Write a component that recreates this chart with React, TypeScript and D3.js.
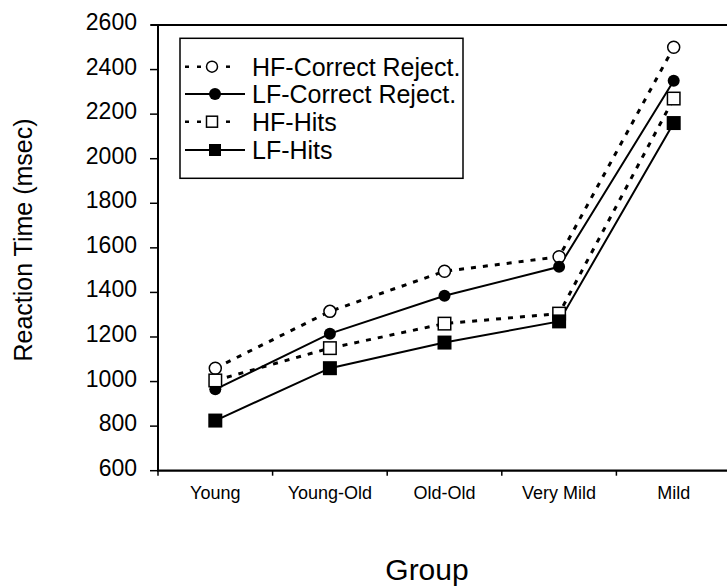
import React from "react";
import * as d3 from "d3";

const categories = ["Young", "Young-Old", "Old-Old", "Very Mild", "Mild"];
const hfCorrectReject = [1060, 1315, 1495, 1560, 2500];
const lfCorrectReject = [965, 1215, 1385, 1515, 2350];
const hfHits = [1005, 1150, 1260, 1305, 2270];
const lfHits = [825, 1060, 1175, 1270, 2160];
const yTicks = [600, 800, 1000, 1200, 1400, 1600, 1800, 2000, 2200, 2400, 2600];
const seriesNames = ["HF-Correct Reject.", "LF-Correct Reject.", "HF-Hits", "LF-Hits"];

type Series = { name: string; values: number[]; dashed: boolean; shape: "circle" | "square"; filled: boolean };

const series: Series[] = [
  { name: seriesNames[0], values: hfCorrectReject, dashed: true, shape: "circle", filled: false },
  { name: seriesNames[1], values: lfCorrectReject, dashed: false, shape: "circle", filled: true },
  { name: seriesNames[2], values: hfHits, dashed: true, shape: "square", filled: false },
  { name: seriesNames[3], values: lfHits, dashed: false, shape: "square", filled: true },
];

const W = 727;
const H = 588;
const FONT = "'Liberation Sans', Arial, Helvetica, sans-serif";

function Marker({ s, cx, cy, legend }: { s: Series; cx: number; cy: number; legend?: boolean }) {
  if (s.shape === "circle") {
    const r = s.filled ? 6 : legend ? 5.5 : 6;
    return (
      <circle cx={cx} cy={cy} r={r} fill={s.filled ? "#000" : "#fff"} stroke="#000" strokeWidth={s.filled ? 0 : 1.5} />
    );
  }
  const side = s.filled ? (legend ? 12 : 14) : legend ? 11 : 12.5;
  return (
    <rect
      x={cx - side / 2}
      y={cy - side / 2}
      width={side}
      height={side}
      fill={s.filled ? "#000" : "#fff"}
      stroke="#000"
      strokeWidth={s.filled ? 0 : 1.5}
    />
  );
}

export default function App() {
  const x = d3.scaleBand<string>().domain(categories).range([158, 158 + 5 * 114.6]).paddingInner(0).paddingOuter(0);
  const y = d3.scaleLinear().domain([600, 2600]).range([470.7, 25]);
  const cx = (c: string) => (x(c) as number) + x.bandwidth() / 2;

  const line = (vals: number[]) =>
    d3
      .line<number>()
      .x((_, i) => cx(categories[i]))
      .y((v) => y(v))(vals) as string;

  const axisY = y(600);
  const tickXs = categories.map((c) => x(c) as number);

  const legendRows = [66.7, 94, 121.7, 150];

  return (
    <svg width={W} height={H} style={{ position: "absolute", left: 0, top: 0, background: "#fff" }} fontFamily={FONT}>
      <rect x={0} y={0} width={W} height={H} fill="#fff" />
      {/* top frame line */}
      <line x1={151} x2={W} y1={y(2600)} y2={y(2600)} stroke="#000" strokeWidth={2} />
      {/* y axis */}
      <line x1={158} x2={158} y1={y(2600)} y2={axisY} stroke="#000" strokeWidth={2} />
      {yTicks.map((t) => (
        <g key={t}>
          <line x1={150} x2={158} y1={y(t)} y2={y(t)} stroke="#000" strokeWidth={1.5} />
          <text x={137} y={y(t) + 5} textAnchor="end" fontSize={23} fill="#000">
            {t}
          </text>
        </g>
      ))}
      {/* x axis */}
      <line x1={157} x2={W} y1={axisY} y2={axisY} stroke="#000" strokeWidth={2.2} />
      {tickXs.map((tx, i) => (
        <line key={i} x1={tx} x2={tx} y1={axisY} y2={axisY + 5} stroke="#000" strokeWidth={1.5} />
      ))}
      {categories.map((c) => (
        <text key={c} x={cx(c)} y={499} textAnchor="middle" fontSize={18} fill="#000">
          {c}
        </text>
      ))}
      {/* axis titles */}
      <text x={427} y={580} textAnchor="middle" fontSize={30} fill="#000">
        Group
      </text>
      <text transform={`translate(32,240) rotate(-90)`} textAnchor="middle" fontSize={25} fill="#000">
        Reaction Time (msec)
      </text>
      {/* lines */}
      {series.map((s) => (
        <path
          key={s.name}
          d={line(s.values)}
          fill="none"
          stroke="#000"
          strokeWidth={s.dashed ? 3 : 2}
          strokeDasharray={s.dashed ? "5,7" : undefined}
        />
      ))}
      {/* markers */}
      {series.map((s) =>
        s.values.map((v, i) => <Marker key={s.name + i} s={s} cx={cx(categories[i])} cy={y(v)} />)
      )}
      {/* legend */}
      <rect x={180} y={38.3} width={283} height={140} fill="#fff" stroke="#000" strokeWidth={1.5} />
      {series.map((s, i) => {
        const ly = legendRows[i];
        return (
          <g key={s.name}>
            {s.dashed ? (
              <g>
                <line x1={185} x2={202} y1={ly} y2={ly} stroke="#000" strokeWidth={2.5} strokeDasharray="4,8" />
                <line x1={226} x2={230} y1={ly} y2={ly} stroke="#000" strokeWidth={2.5} />
              </g>
            ) : (
              <line x1={185} x2={245} y1={ly} y2={ly} stroke="#000" strokeWidth={2} />
            )}
            <Marker s={s} cx={s.dashed ? 212 : 215} cy={ly} legend />
            <text x={252} y={ly + 9} fontSize={25} fill="#000">
              {s.name}
            </text>
          </g>
        );
      })}
    </svg>
  );
}
